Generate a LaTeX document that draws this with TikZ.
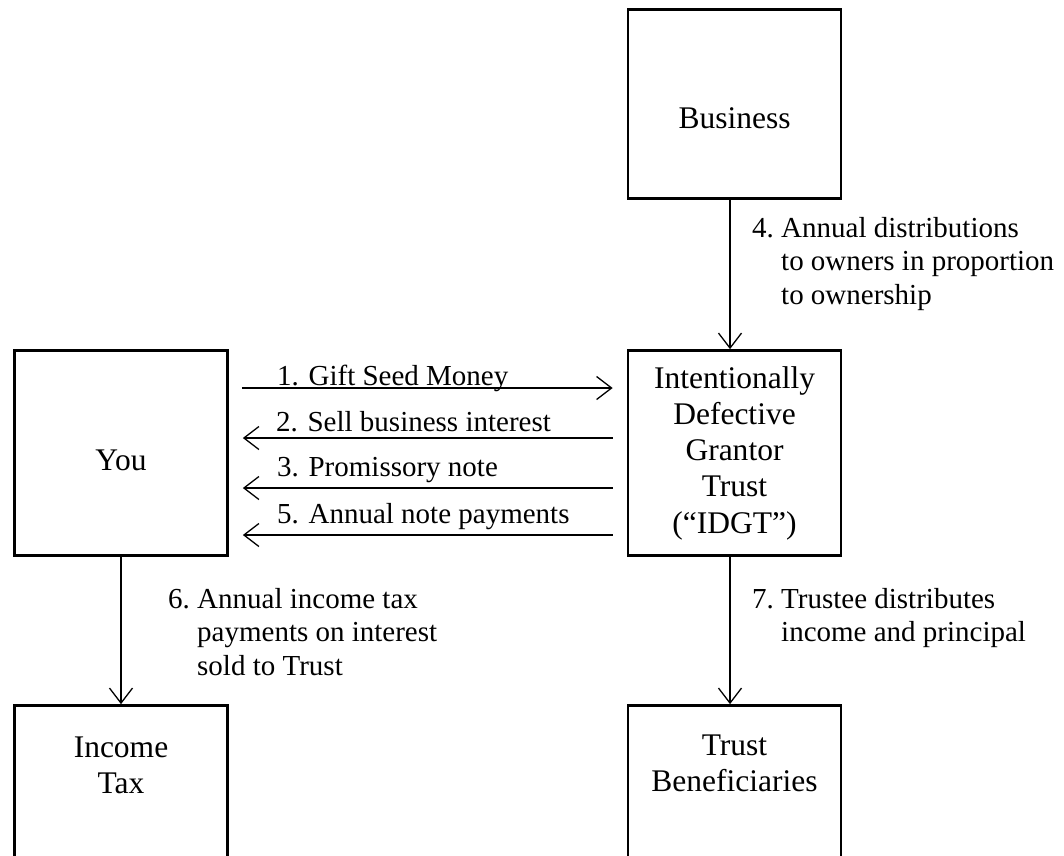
\documentclass[tikz,border=0pt]{standalone}
\usepackage{fontspec}
\setmainfont{Liberation Serif}
\usetikzlibrary{arrows.meta}
\newcommand{\stk}[2]{\begin{tabular}[t]{@{}#1@{}}#2\end{tabular}}
\begin{document}
\begin{tikzpicture}[x=1pt,y=-1pt,
  box/.style={draw,line width=2.7pt,minimum width=213pt,minimum height=205pt,inner sep=0pt},
  conn/.style={line width=1.3pt,-{Straight Barb[length=15pt,width=23pt,line width=1.3pt]}},
  boxtext/.style={anchor=base,inner sep=0pt,font=\fontsize{31.5}{36.3}\selectfont},
  lbl/.style={anchor=base west,inner sep=0pt,font=\fontsize{29}{33.5}\selectfont}]
\useasboundingbox (0,0) rectangle (1064,855);
\fill[white] (0,0) rectangle (1064,855);
\clip (0,0) rectangle (1064,855);
% boxes
\node[box,minimum height=189pt] (bus) at (734.5,104) {};
\node[box] (you) at (121,453) {};
\node[box] (idgt) at (734.5,453) {};
\node[box] (tax) at (121,808) {};
\node[box] (ben) at (734.5,808) {};
% box texts
\node[boxtext] (tbus) at (734.5,128) {Business};
\node[boxtext] (tyou) at (121,470) {You};
\node[boxtext] (tidgt) at (734.5,388) {\stk{c}{Intentionally\\Defective\\Grantor\\Trust\\(“IDGT”)}};
\node[boxtext] (ttax) at (121,757) {\stk{c}{Income\\Tax}};
\node[boxtext] (tben) at (734.5,755) {\stk{c}{Trust\\Beneficiaries}};
% horizontal connectors
\draw[conn] ([xshift=13pt,yshift=65pt]you.east) -- ([xshift=-14pt,yshift=65pt]idgt.west);
\draw[conn] ([xshift=-14pt,yshift=15pt]idgt.west) -- ([xshift=14pt,yshift=15pt]you.east);
\draw[conn] ([xshift=-14pt,yshift=-35pt]idgt.west) -- ([xshift=14pt,yshift=-35pt]you.east);
\draw[conn] ([xshift=-14pt,yshift=-82pt]idgt.west) -- ([xshift=14pt,yshift=-82pt]you.east);
% vertical connectors
\draw[conn] ([xshift=-4.5pt]bus.south) -- ([xshift=-4.5pt]idgt.north);
\draw[conn] (you.south) -- (tax.north);
\draw[conn] ([xshift=-4.5pt]idgt.south) -- ([xshift=-4.5pt]ben.north);
% labels
\node[lbl] (l1) at (277,385) {1. Gift Seed Money};
\node[lbl] (l2) at (276,431) {2. Sell business interest};
\node[lbl] (l3) at (277,476) {3. Promissory note};
\node[lbl] (l5) at (277,523) {5. Annual note payments};
\node[lbl] (l4) at (752,237) {\stk{l}{4.\ Annual distributions\\\phantom{4.\ }to owners in proportion\\\phantom{4.\ }to ownership}};
\node[lbl] (l6) at (168,608) {\stk{l}{6.\ Annual income tax\\\phantom{6.\ }payments on interest\\\phantom{6.\ }sold to Trust}};
\node[lbl] (l7) at (752,608) {\stk{l}{7.\ Trustee distributes\\\phantom{7.\ }income and principal}};
\end{tikzpicture}
\end{document}
